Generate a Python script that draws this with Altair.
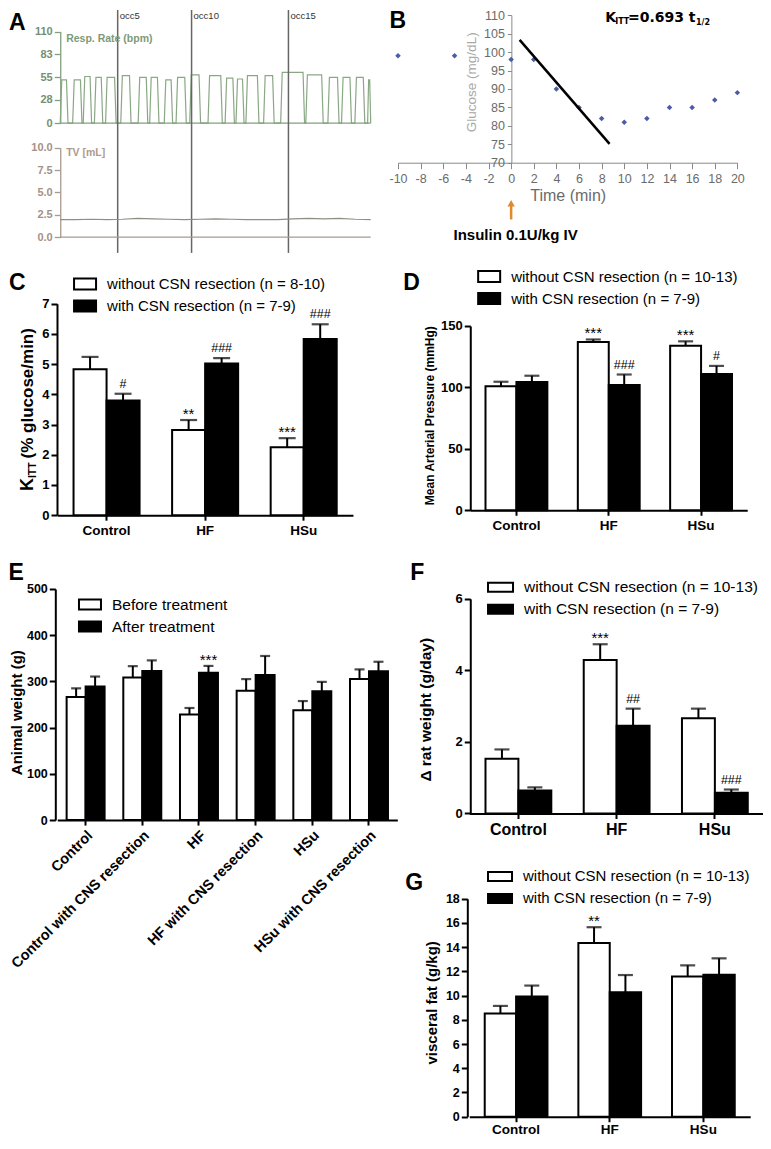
import altair as alt
import pandas as pd

W, H = 755, 1133


def X(r):
    return round((r - 2) * W / 766, 2)


def Y(r):
    return round((r - 1) * H / 1152, 2)


SANS = "Liberation Sans"

# ---------------- Panel A : respiratory trace ----------------
pulse_start = [0, 40, 74, 110, 146, 195, 251, 288, 335, 373, 417, 476, 531, 566, 598, 655, 710, 791, 862, 906, 949, 990]
pulse_end = [25, 70, 101, 137, 180, 228, 282, 318, 362, 406, 452, 522, 561, 592, 640, 689, 787, 847, 898, 938, 981, 1000]
pulse_top = [52, 52, 56, 55, 55, 57, 55, 55, 52, 55, 58, 57, 54, 53, 57, 57, 61, 58, 55, 55, 55, 52]
tv_time = [0, 50, 100, 150, 200, 250, 300, 350, 400, 450, 500, 550, 600, 650, 700, 750, 800, 850, 900, 950, 1000]
tv_value = [1.95, 1.95, 2.0, 1.95, 2.0, 2.1, 2.05, 2.0, 1.95, 2.0, 2.05, 2.0, 1.95, 1.95, 1.95, 2.05, 2.1, 2.05, 2.1, 2.0, 1.95]
occ_time = [185, 423, 735]
occ_label = ["occ5", "occ10", "occ15"]
resp_ticks = [0, 28, 55, 83, 110]
tv_ticks = [0, 2.5, 5, 7.5, 10]

# ---------------- Panel B : insulin tolerance test ----------------
b_time = [-10, -5, 0, 2, 4, 6, 8, 10, 12, 14, 16, 18, 20]
b_glucose = [99, 99, 98, 98, 90, 85, 82, 81, 82, 85, 85, 87, 89]
fit_time = [0.75, 8.7]
fit_glucose = [103.3, 75.1]
b_xticks = [-10, -8, -6, -4, -2, 0, 2, 4, 6, 8, 10, 12, 14, 16, 18, 20]
b_yticks = [70, 75, 80, 85, 90, 95, 100, 105, 110]

# ---------------- Bar panels ----------------
diet = ["Control", "HF", "HSu"]
grp_c = ["without CSN resection (n = 8-10)", "with CSN resection (n = 7-9)"]
grp_dfg = ["without CSN resection (n = 10-13)", "with CSN resection (n = 7-9)"]

c_mean = [[4.83, 2.82, 2.25], [3.80, 5.02, 5.83]]
c_sem = [[0.41, 0.33, 0.30], [0.22, 0.18, 0.49]]
c_mark = [["", "**", "***"], ["#", "###", "###"]]

d_mean = [[101, 137, 134], [104.5, 102, 111]]
d_sem = [[3.6, 2.0, 3.5], [5.0, 8.5, 6.5]]
d_mark = [["", "***", "***"], ["", "###", "#"]]

e_groups = ["Before treatment", "After treatment"]
e_cats = ["Control", "Control with CNS resection", "HF", "HF with CNS resection",
          "HSu", "HSu with CNS resection"]
e_mean = [[266, 308.5, 228.5, 280, 237.5, 305], [289, 322.5, 319, 314, 278.5, 322]]
e_sem = [[19, 24.5, 14, 25, 20, 21], [21.5, 23, 14.5, 41, 20.5, 20.5]]
e_mark = [["", "", "", "", "", ""], ["", "", "***", "", "", ""]]

f_mean = [[1.53, 4.29, 2.66], [0.64, 2.45, 0.58]]
f_sem = [[0.26, 0.44, 0.27], [0.09, 0.48, 0.09]]
f_mark = [["", "***", ""], ["", "##", "###"]]

g_mean = [[8.53, 14.35, 11.58], [9.93, 10.28, 11.72]]
g_sem = [[0.62, 1.30, 0.92], [0.90, 1.42, 1.36]]
g_mark = [["", "**", ""], ["", "", ""]]


def label(text, x, y, **kw):
    return alt.Chart(pd.DataFrame({"s": [text]})).mark_text(**kw).encode(
        x=alt.value(x), y=alt.value(y), text="s:N")


units = []

# ---------------- Panel A build ----------------
resp_t, resp_v = [], []
for s, e, top in zip(pulse_start, pulse_end, pulse_top):
    ramp = min(5, (e - s) / 3)
    resp_t += [s, s + ramp, e - ramp, e]
    resp_v += [0, top, top, 0]

GREEN = "#82a07e"
BROWN = "#a89a90"


def xA():
    return alt.Scale(domain=[0, 1000], range=[X(55), X(370)], nice=False, zero=False)


def yA1():
    return alt.Scale(domain=[0, 110], range=[Y(118), Y(25)], nice=False, zero=False)


def yA2():
    return alt.Scale(domain=[0, 10], range=[Y(234), Y(143)], nice=False, zero=False)


def a_axis(offset, vals, col, labcol, fmt=None):
    kw = dict(orient="left", offset=offset, values=vals, title=None, grid=False,
              domainColor=col, domainWidth=1.3, tickColor=col, tickWidth=1.3, tickSize=6,
              labelColor=labcol, labelFont=SANS, labelFontWeight="bold", labelFontSize=11,
              labelPadding=2, labelFlush=False, labelOverlap=False)
    if fmt:
        kw["format"] = fmt
    return alt.Axis(**kw)


resp_df = pd.DataFrame({"t": resp_t, "v": resp_v})
base_df = pd.DataFrame({"t0": [0], "t1": [1000], "v": [0]})
occ_df = pd.DataFrame({"t": occ_time, "label": occ_label})

units.append(alt.Chart(resp_df).mark_line(color="#8aa885", strokeWidth=1.2).encode(
    x=alt.X("t:Q", scale=xA(), axis=None),
    y=alt.Y("v:Q", scale=yA1(), axis=a_axis(-X(55), resp_ticks, GREEN, "#76906f"))))
units.append(alt.Chart(base_df).mark_rule(color=GREEN, strokeWidth=1.3).encode(
    x=alt.X("t0:Q", scale=xA(), axis=None), x2="t1:Q", y=alt.Y("v:Q", scale=yA1(), axis=None)))
units.append(alt.Chart(occ_df).mark_rule(color="#666666", strokeWidth=1.5).encode(
    x=alt.X("t:Q", scale=xA(), axis=None), y=alt.value(Y(3)), y2=alt.value(Y(250))))
units.append(alt.Chart(occ_df).mark_text(align="left", baseline="alphabetic", dx=2, font=SANS,
                                         fontSize=9.5, color="#333333").encode(
    x=alt.X("t:Q", scale=xA(), axis=None), y=alt.value(Y(12)), text="label:N"))
units.append(label("Resp. Rate (bpm)", X(61), Y(33), align="left", baseline="middle", font=SANS,
                   fontSize=10.5, fontWeight="bold", color="#7d9a78"))

tv_df = pd.DataFrame({"t": tv_time, "v": tv_value})
units.append(alt.Chart(tv_df).mark_line(color="#8f8f84", strokeWidth=1.2).encode(
    x=alt.X("t:Q", scale=xA(), axis=None),
    y=alt.Y("v:Q", scale=yA2(), axis=a_axis(-X(55), tv_ticks, BROWN, "#a39288", ".1f"))))
units.append(alt.Chart(base_df).mark_rule(color=BROWN, strokeWidth=1.3).encode(
    x=alt.X("t0:Q", scale=xA(), axis=None), x2="t1:Q", y=alt.Y("v:Q", scale=yA2(), axis=None)))
units.append(label("TV [mL]", X(61), Y(148), align="left", baseline="middle", font=SANS,
                   fontSize=10.5, fontWeight="bold", color="#b09a8c"))

# ---------------- Panel B build ----------------
GRAY = "#6b6b6b"
ORANGE = "#e08a2c"


def xB():
    return alt.Scale(domain=[-10, 20], range=[X(397.7), X(742)], nice=False, zero=False)


def yB():
    return alt.Scale(domain=[70, 110], range=[Y(158.3), Y(8.3)], nice=False, zero=False)


axisBx = alt.Axis(orient="bottom", offset=Y(158.3) - H, values=b_xticks, title="Time (min)",
                  labelExpr="'' + datum.value",
                  titleFont=SANS, titleFontSize=16, titleFontWeight="normal", titleColor=GRAY,
                  titlePadding=2, labelFont=SANS, labelFontSize=12.5, labelColor=GRAY,
                  labelPadding=4, tickSize=6, tickColor="#8a8a8a", domainColor="#8a8a8a",
                  grid=False, labelFlush=False, labelOverlap=False)
axisBy = alt.Axis(orient="left", offset=-X(512.7), values=b_yticks, title="Glucose (mg/dL)",
                  titleFont=SANS, titleFontSize=13.5, titleFontWeight="normal", titleColor="#a8a8a8",
                  titleAngle=270, titleAlign="center", titleBaseline="alphabetic",
                  titleX=X(476) - X(512.7), titleY=Y(76),
                  labelFont=SANS, labelFontSize=12.5, labelColor=GRAY, labelPadding=3,
                  tickSize=4, tickColor="#8a8a8a", domainColor="#8a8a8a", grid=False,
                  labelFlush=False, labelOverlap=False)
b_df = pd.DataFrame({"t": b_time, "g": b_glucose})
fit_df = pd.DataFrame({"t": fit_time, "g": fit_glucose})
zero_df = pd.DataFrame({"t": [0]})
units.append(alt.Chart(b_df).mark_point(shape="diamond", filled=True, size=30, color="#4b5ca6",
                                        opacity=1).encode(
    x=alt.X("t:Q", scale=xB(), axis=axisBx), y=alt.Y("g:Q", scale=yB(), axis=axisBy)))
units.append(alt.Chart(fit_df).mark_line(color="black", strokeWidth=2.5).encode(
    x=alt.X("t:Q", scale=xB(), axis=None), y=alt.Y("g:Q", scale=yB(), axis=None)))
units.append(alt.Chart(zero_df).mark_rule(color=ORANGE, strokeWidth=2.5).encode(
    x=alt.X("t:Q", scale=xB(), axis=None), y=alt.value(Y(202)), y2=alt.value(Y(216))))
units.append(alt.Chart(zero_df).mark_point(shape="triangle-up", filled=True, size=55, color=ORANGE,
                                           opacity=1).encode(
    x=alt.X("t:Q", scale=xB(), axis=None), y=alt.value(Y(199.5))))
KF = "DejaVu Sans"
units.append(label("K", X(608), Y(15), align="left", baseline="alphabetic", font=KF, fontSize=14, fontWeight="bold", color="black"))
units.append(label("ITT", X(618), Y(17.5), align="left", baseline="alphabetic", font=KF, fontSize=8, fontWeight="bold", color="black"))
units.append(label("=0.693 t", X(631), Y(15), align="left", baseline="alphabetic", font=KF, fontSize=14, fontWeight="bold", color="black"))
units.append(label("1/2", X(700), Y(18.5), align="left", baseline="alphabetic", font=KF, fontSize=8, fontWeight="bold", color="black"))
units.append(label("Insulin 0.1U/kg IV", X(517), Y(237), align="center", baseline="alphabetic",
                   font=SANS, fontSize=15, fontWeight="bold", color="black"))


# ---------------- Bar panel builder ----------------
def bar_panel(cats, groups, means, sems, marks, xr, yaxis_x, yr, ydom, yvals, ylab_size,
              xlab_size, xangle, ytitle, ytitle_x, ytitle_y, ytitle_size,
              leg_x, leg_cy, sym_w, sym_h, leg_size, cap, xlab_pad=3):
    rows = []
    for gi, g in enumerate(groups):
        for ci, c in enumerate(cats):
            rows.append({"cat": c, "grp": g, "mean": means[gi][ci],
                         "hi": means[gi][ci] + sems[gi][ci], "mark": marks[gi][ci]})
    df = pd.DataFrame(rows)

    def xs():
        return alt.Scale(domain=cats, range=[X(xr[0]), X(xr[1])], paddingInner=0.33,
                         paddingOuter=0.165)

    def offs():
        return alt.Scale(domain=groups)

    def ys():
        return alt.Scale(domain=ydom, range=[Y(yr[0]), Y(yr[1])], nice=False, zero=False)

    fs = alt.Scale(domain=groups, range=["white", "black"])
    x_axis = alt.Axis(orient="bottom", offset=Y(yr[0]) - H, title=None, grid=False,
                      labelAngle=xangle, labelFont=SANS, labelFontWeight="bold",
                      labelFontSize=xlab_size, labelColor="black", labelPadding=xlab_pad,
                      labelLimit=400, domainColor="black", domainWidth=2, tickColor="black",
                      tickWidth=2, tickSize=5, labelOverlap=False)
    ykw = dict(orient="left", offset=-X(yaxis_x), values=yvals, grid=False,
               labelFont=SANS, labelFontWeight="bold", labelFontSize=ylab_size,
               labelColor="black", labelPadding=2, domainColor="black", domainWidth=2,
               tickColor="black", tickWidth=2, tickSize=6, labelFlush=False,
               labelOverlap=False)
    if ytitle:
        ykw.update(title=ytitle, titleFont=SANS, titleFontWeight="bold",
                   titleFontSize=ytitle_size, titleColor="black", titleAngle=270,
                   titleAlign="center", titleBaseline="alphabetic",
                   titleX=X(ytitle_x) - X(yaxis_x), titleY=Y(ytitle_y))
    else:
        ykw.update(title=None)
    y_axis = alt.Axis(**ykw)
    r = round(sym_h / sym_w, 3)
    legend = alt.Legend(orient="none", legendX=X(leg_x), legendY=Y(leg_cy) - sym_w / 2,
                        title=None, symbolType=f"M-1,-{r}L1,-{r}L1,{r}L-1,{r}Z",
                        symbolSize=sym_w * sym_w, symbolStrokeColor="black",
                        symbolStrokeWidth=2, symbolOpacity=1, labelFont=SANS,
                        labelFontSize=leg_size, labelColor="black", labelOffset=10,
                        labelLimit=400, rowPadding=0, padding=0, direction="vertical")
    base = alt.Chart(df)
    out = [
        base.mark_bar(stroke="black", strokeWidth=2).encode(
            x=alt.X("cat:N", scale=xs(), axis=x_axis),
            xOffset=alt.XOffset("grp:N", scale=offs()),
            y=alt.Y("mean:Q", scale=ys(), axis=y_axis),
            fill=alt.Fill("grp:N", scale=fs, legend=legend)),
        base.mark_rule(color="black", strokeWidth=2).encode(
            x=alt.X("cat:N", scale=xs(), axis=None), xOffset=alt.XOffset("grp:N", scale=offs()),
            y=alt.Y("mean:Q", scale=ys(), axis=None), y2="hi:Q"),
        base.mark_tick(color="black", thickness=2.2, size=cap).encode(
            x=alt.X("cat:N", scale=xs(), axis=None), xOffset=alt.XOffset("grp:N", scale=offs()),
            y=alt.Y("hi:Q", scale=ys(), axis=None)),
        base.transform_filter("indexof(datum.mark, '*') >= 0").mark_text(
            dy=-1, baseline="alphabetic", font=SANS, fontSize=15, color="black").encode(
            x=alt.X("cat:N", scale=xs(), axis=None), xOffset=alt.XOffset("grp:N", scale=offs()),
            y=alt.Y("hi:Q", scale=ys(), axis=None), text="mark:N"),
        base.transform_filter("indexof(datum.mark, '#') >= 0").mark_text(
            dy=-6, baseline="alphabetic", font=SANS, fontSize=12.5, color="black").encode(
            x=alt.X("cat:N", scale=xs(), axis=None), xOffset=alt.XOffset("grp:N", scale=offs()),
            y=alt.Y("hi:Q", scale=ys(), axis=None), text="mark:N"),
    ]
    return out


units += bar_panel(diet, grp_c, c_mean, c_sem, c_mark, [52, 352], 51.7, [516.7, 301.7], [0, 7],
                   [0, 1, 2, 3, 4, 5, 6, 7], 13, 13.5, 0, None, 0, 0, 0,
                   68, 280.7, 22, 11, 15, 17)
units.append(label("K", X(27), Y(492), angle=270, align="left", baseline="alphabetic", font=SANS,
                   fontSize=18, fontWeight="bold", color="black"))
units.append(label("ITT", X(30.5), Y(479), angle=270, align="left", baseline="alphabetic",
                   font=SANS, fontSize=10.5, fontWeight="bold", color="black"))
units.append(label("(% glucose/min)", X(27), Y(459), angle=270, align="left",
                   baseline="alphabetic", font=SANS, fontSize=17, fontWeight="bold",
                   color="black"))

units += bar_panel(diet, grp_dfg, d_mean, d_sem, d_mark, [471, 752], 471, [511.7, 324.3],
                   [0, 150], [0, 50, 100, 150], 13, 13.5, 0,
                   "Mean Arterial Pressure  (mmHg)", 434, 415, 12,
                   478, 273, 22, 11, 15, 15)
units += bar_panel(e_cats, e_groups, e_mean, e_sem, e_mark, [52, 397], 50, [826.7, 591.7],
                   [0, 500], [0, 100, 200, 300, 400, 500], 12.5, 14.5, -45,
                   "Animal weight (g)", 16, 717, 15,
                   73, 606.5, 22, 10, 15.5, 10)
units += bar_panel(diet, grp_dfg, f_mean, f_sem, f_mark, [470, 769], 471, [820, 601.7],
                   [0, 6], [0, 2, 4, 6], 13, 16, 0,
                   "Δ rat weight (g/day)", 431, 714, 15.5,
                   488, 589, 25, 9, 15.5, 15)
units += bar_panel(diet, grp_dfg, g_mean, g_sem, g_mark, [470, 755], 468, [1128.3, 906.7],
                   [0, 18], [0, 2, 4, 6, 8, 10, 12, 14, 16, 18], 12.5, 13.5, 0,
                   "visceral fat (g/kg)", 437, 1012, 15,
                   488, 883, 24, 9, 15, 15, xlab_pad=1)

letter_kw = dict(align="left", baseline="alphabetic", font=SANS, fontSize=23, fontWeight="bold",
                 color="black")
for t, x, y in [("A", 3, 23), ("B", 389, 21), ("C", 3, 288), ("D", 403, 288), ("E", 2, 583),
                ("F", 410, 583), ("G", 405, 898)]:
    units.append(label(t, max(X(x), 0.5), Y(y), **letter_kw))

chart = alt.layer(*units).resolve_scale(
    x="independent", y="independent", xOffset="independent", fill="independent"
).properties(
    width=W, height=H, autosize=alt.AutoSizeParams(type="none"), padding=0
).configure_view(stroke=None)

chart.save("out.html", embed_options={"renderer": "svg", "actions": False})
